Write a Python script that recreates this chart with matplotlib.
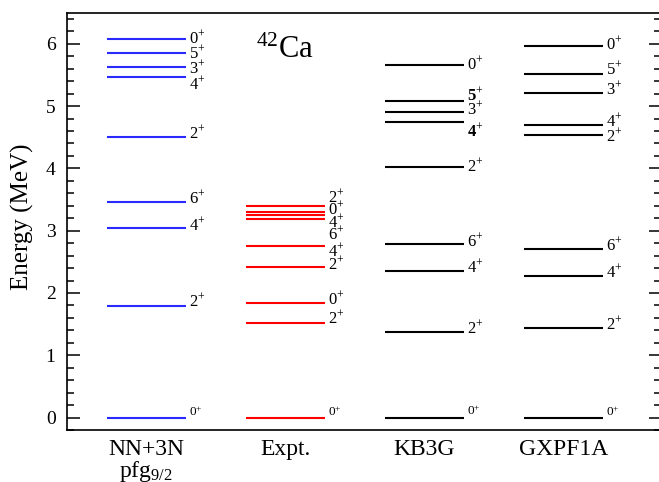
import matplotlib
matplotlib.use("Agg")
import matplotlib.pyplot as plt
from matplotlib.ticker import MultipleLocator

plt.rcParams['font.family'] = ['Liberation Serif', 'DejaVu Serif']
plt.rcParams['mathtext.fontset'] = 'custom'
plt.rcParams['mathtext.rm'] = 'Liberation Serif'
plt.rcParams['mathtext.it'] = 'Liberation Serif:italic'
plt.rcParams['mathtext.bf'] = 'Liberation Serif:bold'

# ---------------- data ----------------
categories = ["NN+3N\npfg$_{9/2}$", "Expt.", "KB3G", "GXPF1A"]

nn3n_energy = [0.00, 1.79, 3.05, 3.46, 4.51, 5.46, 5.62, 5.86, 6.08]
nn3n_spin   = ["0", "2", "4", "6", "2", "4", "3", "5", "0"]

expt_energy = [0.00, 1.525, 1.837, 2.424, 2.752, 3.189, 3.254, 3.300, 3.392]
expt_spin   = ["0", "2", "0", "2", "4", "6", "4", "0", "2"]

kb3g_energy = [0.00, 1.38, 2.36, 2.78, 4.02, 4.75, 4.91, 5.08, 5.66]
kb3g_spin   = ["0", "2", "4", "6", "2", "4", "3", "5", "0"]

gxpf_energy = [0.00, 1.44, 2.28, 2.71, 4.53, 4.69, 5.21, 5.52, 5.97]
gxpf_spin   = ["0", "2", "4", "6", "2", "4", "3", "5", "0"]

series_energy = [nn3n_energy, expt_energy, kb3g_energy, gxpf_energy]
series_spin = [nn3n_spin, expt_spin, kb3g_spin, gxpf_spin]

# ---------------- layout / style ----------------
colors = ["#2a2aff", "#ff0000", "black", "black"]
half_width = 0.284
# vertical shift (pixels) of digit centre above the level line, per label
label_shift = [
    [5.5, 5, 2.7, 4, 3.5, -6, 0, 0, 1.6],
    [5.5, 4.4, 4.7, 2.4, -5, -15, -6.7, 3, 10],
    [6.5, 4, 4, 4, 1, -9, 2.7, 6.4, 1],
    [6, 4, 4, 4, 0, 5, 4.4, 5, 1.7],
]
bold_labels = {(2, 5), (2, 7)}

fig = plt.figure(figsize=(6.59, 4.82), dpi=100)
ax = fig.add_axes([0.1012, 0.1079, 0.9018, 0.8658])

for ci, (energies, spins) in enumerate(zip(series_energy, series_spin)):
    xc = ci + 1
    for li, (e, s) in enumerate(zip(energies, spins)):
        ax.hlines(e, xc - half_width, xc + half_width, colors=colors[ci], lw=1.5)
        ground = (e == 0.0)
        fs = 9.5 if ground else 12
        half_digit = 0.676 * fs * 100 / 72 / 2
        dy = label_shift[ci][li] - half_digit
        weight = 'bold' if (ci, li) in bold_labels else 'normal'
        ax.annotate(s + r"$^{+}$", xy=(xc + half_width, e), xytext=(3, dy),
                    textcoords='offset pixels', ha='left', va='baseline',
                    fontsize=fs, fontweight=weight)

ax.text(2.0, 5.78, r"$^{42}$Ca", ha='center', va='baseline', fontsize=22)

ax.set_xlim(0.4285, 4.70)
ax.set_ylim(-0.2, 6.5)
ax.set_xticks([1, 2, 3, 4])
ax.set_xticklabels(categories, fontsize=17, linespacing=0.95, va='top')
ax.tick_params(axis='x', length=0, pad=6.5)

ax.yaxis.set_major_locator(MultipleLocator(1))
ax.yaxis.set_minor_locator(MultipleLocator(0.2))
ax.tick_params(axis='y', which='both', direction='in', left=True, right=True,
               labelsize=14, pad=8, width=1.1)
ax.tick_params(axis='y', which='major', length=9)
ax.tick_params(axis='y', which='minor', length=4.8)

ax.set_ylabel("Energy (MeV)", fontsize=18)
ax.yaxis.set_label_coords(-0.055, 0.51)

for sp in ax.spines.values():
    sp.set_linewidth(1.2)

fig.savefig("out.png", dpi=100)
